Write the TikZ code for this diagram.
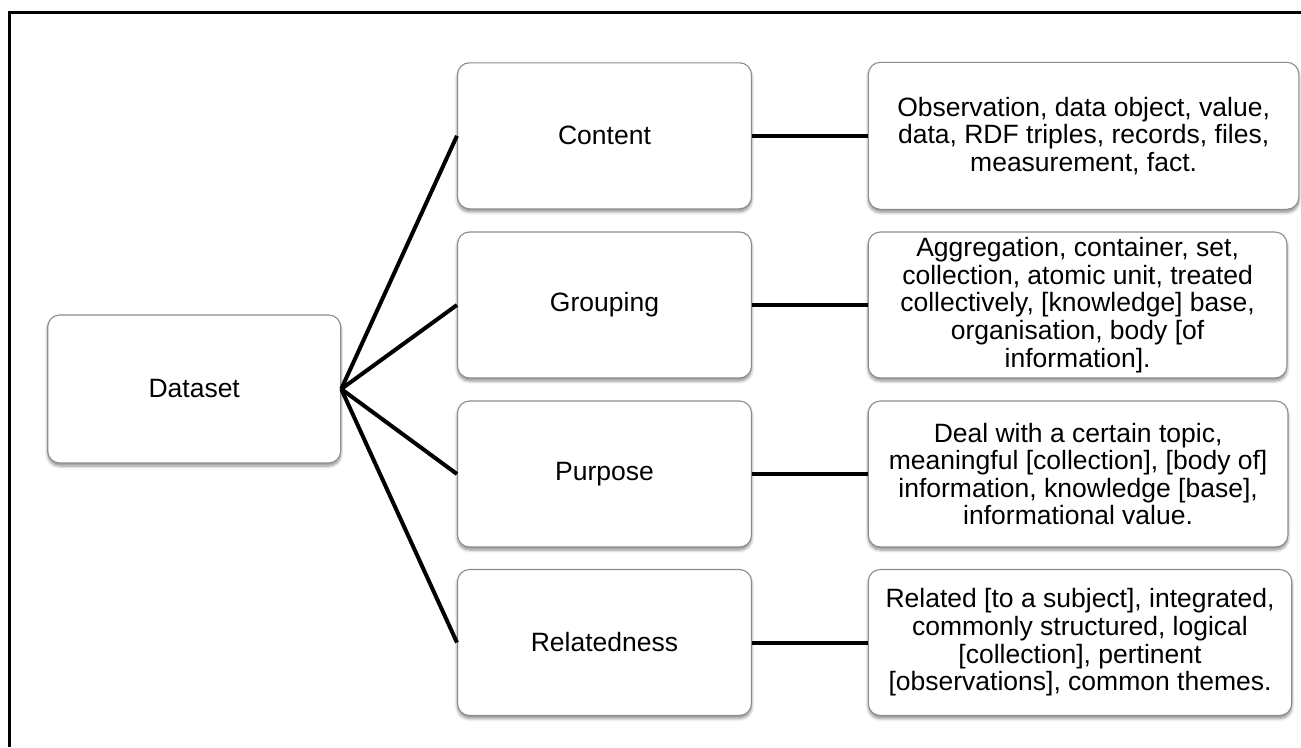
\documentclass[tikz,border=0pt]{standalone}
\usepackage{fontspec}
\setmainfont{Liberation Sans}
\usetikzlibrary{shadows.blur}
\begin{document}
\begin{tikzpicture}[x=1pt,y=-1pt,
  box/.style={draw=black!45, line width=1.1pt, fill=white, rounded corners=12pt,
    rectangle, align=center, inner sep=4pt,
    font=\fontsize{26.5}{27.6}\selectfont,
    blur shadow={shadow xshift=0pt, shadow yshift=-3pt, shadow blur radius=3pt,
      shadow blur steps=6, shadow opacity=45}},
  conn/.style={line width=4pt, black},
  frame/.style={line width=2.6pt, black}]
\useasboundingbox (0,0) rectangle (1301,747);

% outer frame (top and left edges)
\draw[frame] (1301,12.5) -- (9.5,12.5) -- (9.5,747);

% root
\node[box, minimum width=293pt, minimum height=148pt] (ds) at (194.2,389) {Dataset};

% aspects
\node[box, minimum width=294pt, minimum height=146pt] (content) at (604.5,135.8) {Content};
\node[box, minimum width=294pt, minimum height=146pt] (grouping) at (604.5,305) {Grouping};
\node[box, minimum width=294pt, minimum height=146pt] (purpose) at (604.5,474) {Purpose};
\node[box, minimum width=294pt, minimum height=146pt] (related) at (604.5,642.5) {Relatedness};

% descriptions
\node[box, minimum width=430.5pt, minimum height=147pt] (dcontent) at (1083.6,135.8)
  {Observation, data object, value,\\data, RDF triples, records, files,\\measurement, fact.};
\node[box, minimum width=418.7pt, minimum height=146pt] (dgrouping) at (1077.6,305)
  {Aggregation, container, set,\\collection, atomic unit, treated\\collectively, [knowledge] base,\\organisation, body [of\\information].};
\node[box, minimum width=419.7pt, minimum height=146pt] (dpurpose) at (1078.1,474)
  {Deal with a certain topic,\\meaningful [collection], [body of]\\information, knowledge [base],\\informational value.};
\node[box, minimum width=423.4pt, minimum height=146pt] (drelated) at (1080,642.5)
  {Related [to a subject], integrated,\\commonly structured, logical\\{[}collection], pertinent\\{[}observations], common themes.};

% connectors
\draw[conn] (ds.east) -- (content.west);
\draw[conn] (ds.east) -- (grouping.west);
\draw[conn] (ds.east) -- (purpose.west);
\draw[conn] (ds.east) -- (related.west);
\draw[conn] (content.east) -- (dcontent.west);
\draw[conn] (grouping.east) -- (dgrouping.west);
\draw[conn] (purpose.east) -- (dpurpose.west);
\draw[conn] (related.east) -- (drelated.west);
\end{tikzpicture}
\end{document}
